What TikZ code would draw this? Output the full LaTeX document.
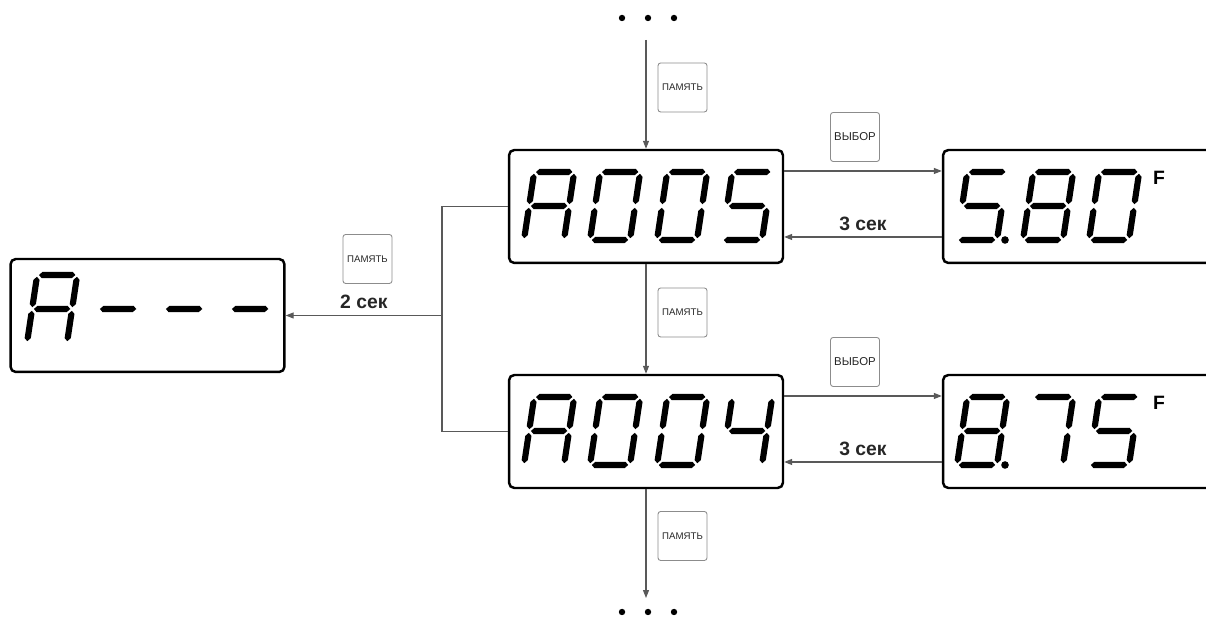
\documentclass[tikz,border=0pt]{standalone}
\usepackage{fontspec}
\setmainfont{Liberation Sans}
\usetikzlibrary{arrows.meta,math}

% one segment, horizontal or vertical, with pointed ends
\newcommand\hseg[3]{\fill (#1,#3) -- (#1+3.1,#3+3.1) -- (#2-3.1,#3+3.1) -- (#2,#3) -- (#2-3.1,#3-3.1) -- (#1+3.1,#3-3.1) -- cycle;}
\newcommand\vseg[3]{\fill (#1,#2) -- (#1+3.1,#2+3.1) -- (#1+3.1,#3-3.1) -- (#1,#3) -- (#1-3.1,#3-3.1) -- (#1-3.1,#2+3.1) -- cycle;}
\newcommand\lcdsega{\hseg{1.8}{38.2}{68}}
\newcommand\lcdsegb{\vseg{40}{35.8}{66.2}}
\newcommand\lcdsegc{\vseg{40}{1.8}{32.2}}
\newcommand\lcdsegd{\hseg{1.8}{38.2}{0}}
\newcommand\lcdsege{\vseg{0}{1.8}{32.2}}
\newcommand\lcdsegf{\vseg{0}{35.8}{66.2}}
\newcommand\lcdsegg{\hseg{1.8}{38.2}{34}}
\newcommand\lcddigit[3]{%
  \begin{scope}[shift={(#1,#2)}, xslant=0.15]
    \foreach \s in {#3} {\csname lcdseg\s\endcsname}
  \end{scope}}

\begin{document}
\begin{tikzpicture}[x=0.02cm, y=0.02cm,
  >={Triangle[length=4.5pt,width=3.4pt]},
  lcd/.style={draw, line width=1.4pt, rounded corners=3pt, minimum width=5.48cm, minimum height=2.26cm, inner sep=0},
  btn/.style={draw=black!45, line width=0.5pt, rounded corners=1.5pt, minimum size=0.98cm, inner sep=0, text=black!85, font=\fontsize{5.5}{6}\selectfont},
  link/.style={draw=black!65, line width=0.6pt},
  lbl/.style={font=\fontsize{11}{13}\selectfont\bfseries, text=black!85}]
  \clip (0,0) rectangle (1206,617);
  \useasboundingbox (0,0) rectangle (1206,617);
  \tikzmath{\ra = 377; \rb = 152;}

  \node[lcd] (adash) at (147.5,301.5) {};
  \node[lcd] (a005) at (646,410.5) {};
  \node[lcd] (a004) at (646,185.5) {};
  \node[lcd] (v580) at (1080,410.5) {};
  \node[lcd] (v875) at (1080,185.5) {};

  % A - - -
  \lcddigit{27}{274}{a,b,c,e,f,g}
  \foreach \x in {93,159,225} {\lcddigit{\x}{274}{g}}

  % A005 and A004
  \lcddigit{524}{\ra}{a,b,c,e,f,g}
  \lcddigit{590}{\ra}{a,b,c,d,e,f}
  \lcddigit{657}{\ra}{a,b,c,d,e,f}
  \lcddigit{722}{\ra}{a,c,d,f,g}
  \lcddigit{524}{\rb}{a,b,c,e,f,g}
  \lcddigit{590}{\rb}{a,b,c,d,e,f}
  \lcddigit{657}{\rb}{a,b,c,d,e,f}
  \lcddigit{722}{\rb}{b,c,f,g}

  % 5.80 and 8.75
  \lcddigit{957}{\ra}{a,c,d,f,g}
  \lcddigit{1023}{\ra}{a,b,c,d,e,f,g}
  \lcddigit{1089}{\ra}{a,b,c,d,e,f}
  \lcddigit{957}{\rb}{a,b,c,d,e,f,g}
  \lcddigit{1023}{\rb}{a,b,c}
  \lcddigit{1089}{\rb}{a,c,d,f,g}
  \fill (1005,\ra) circle (3.8);
  \fill (1005,\rb) circle (3.8);
  \node[font=\fontsize{11}{13}\selectfont\bfseries] (fa) at (1159,439) {F};
  \node[font=\fontsize{11}{13}\selectfont\bfseries] (fb) at (1159,214) {F};

  \node[btn] (mem0) at (367.5,358) {ПАМЯТЬ};
  \node[btn] (mem1) at (682.5,529.5) {ПАМЯТЬ};
  \node[btn] (mem2) at (682.5,304.5) {ПАМЯТЬ};
  \node[btn] (mem3) at (682.5,81) {ПАМЯТЬ};
  \node[btn, font=\fontsize{6.5}{7}\selectfont] (sel1) at (855,480) {ВЫБОР};
  \node[btn, font=\fontsize{6.5}{7}\selectfont] (sel2) at (855,255) {ВЫБОР};

  \coordinate (top) at (646,577);
  \coordinate (bot) at (646,19);
  \coordinate (split) at (442,301.5);
  \draw[link, ->] (top) -- (a005.north);
  \draw[link, ->] (a005.south) -- (a004.north);
  \draw[link, ->] (a004.south) -- (bot);
  \draw[link] (a005.west) -| (split) |- (a004.west);
  \draw[link, ->] (split) -- (adash.east) node[midway, above, lbl] {2 сек};

  \draw[link, ->] ([yshift=0.71cm]a005.east) -- ([yshift=0.71cm]v580.west);
  \draw[link, ->] ([yshift=-0.61cm]v580.west) -- ([yshift=-0.61cm]a005.east) node[midway, above, lbl] {3 сек};
  \draw[link, ->] ([yshift=0.71cm]a004.east) -- ([yshift=0.71cm]v875.west);
  \draw[link, ->] ([yshift=-0.61cm]v875.west) -- ([yshift=-0.61cm]a004.east) node[midway, above, lbl] {3 сек};

  \foreach \x in {622,648,674} {\fill (\x,599) circle (3.2); \fill (\x,5) circle (3.2);}
\end{tikzpicture}
\end{document}
